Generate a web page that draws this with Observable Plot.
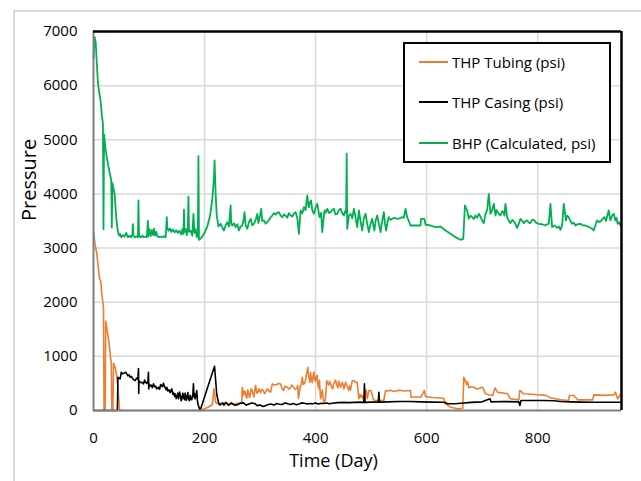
<!DOCTYPE html>
<html>
<head>
<meta charset="utf-8">
<script src="https://cdn.jsdelivr.net/npm/d3@7"></script>
<script src="https://cdn.jsdelivr.net/npm/@observablehq/plot@0.6"></script>
<style>
  html, body { margin: 0; padding: 0; background: #fff; overflow: hidden; }
  #wrap { position: relative; width: 641px; height: 481px; overflow: hidden; font-family: "Open Sans", sans-serif; }
  #outer { position: absolute; left: 13px; top: 10px; width: 800px; height: 600px; border-left: 2px solid #d9d9d9; border-top: 2px solid #d9d9d9; }
  #chart { position: absolute; left: 0; top: 0; }
  #legend { position: absolute; left: 403px; top: 42px; width: 208px; height: 121px; box-sizing: border-box; border: 2px solid #000; background: #fff; }
  .row { position: absolute; left: 0; height: 20px; line-height: 20px; font-size: 15px; color: #000; white-space: nowrap; }
  .sw { position: absolute; left: 14px; top: 9px; width: 29px; height: 0; border-top: 2px solid; }
  .lab { position: absolute; left: 47px; top: 0; }
</style>
</head>
<body>
<div id="wrap">
  <div id="outer"></div>
  <div id="chart"></div>
  <div id="legend"></div>
</div>
<script>
const xTicks = [0, 200, 400, 600, 800];
const yTicks = [0, 1000, 2000, 3000, 4000, 5000, 6000, 7000];
const seriesNames = ["THP Tubing (psi)", "THP Casing (psi)", "BHP (Calculated, psi)"];
const seriesColors = ["#ED7D31", "#000000", "#00B050"];

// THP Tubing (psi): [day, psi]
const tubing = [
[0,3300],[3,3050],[6,2900],[9,2600],[11,2420],[13,2400],[15,2150],[18,1900],[19,0],[21,0],[22,1650],[25,1450],[28,1250],[31,950],[32,870],[33,0],[35,0],[36,870],[39,800],[42,620],[45,300],[47,0],
[100,0],[150,0],[192,0],[200,30],[208,70],[214,110],[217,400],[220,150],[225,110],[230,130],[235,100],[240,140],[245,110],[250,130],[255,120],[262,140],[267,150],
[268,430],[270,280],[272,360],[273,350],[275,250],[276,230],[278,380],[279,330],[281,240],[282,270],[284,400],[286,360],[288,280],[289,250],[291,420],[292,460],[294,320],[296,340],[298,400],[301,330],[303,390],[306,370],[308,310],[310,340],[313,400],[316,360],[319,340],[322,490],[326,470],[330,480],[333,500],[337,490],[339,420],[342,370],[345,450],[349,430],[352,400],[355,420],[357,470],[360,440],[363,390],[366,410],[368,460],[369,220],[371,350],[373,450],[375,520],[376,615],[378,480],[380,500],[382,560],[383,650],[385,720],[386,800],[387,680],[388,600],[390,520],[391,700],[392,620],[394,520],[395,600],[397,710],[398,580],[400,540],[401,620],[403,650],[404,480],[406,400],[407,560],[409,220],[411,300],[412,380],[414,200],[415,150],[417,180],[418,250],[420,550],[422,500],[424,470],[425,540],[427,490],[429,430],[431,400],[432,480],[434,520],[436,560],[438,480],[440,420],[442,540],[443,500],[445,430],[447,480],[448,520],[450,460],[451,400],[453,480],[454,520],[456,470],[458,420],[460,370],[461,450],[463,380],[466,550],[469,554],[472,520],[475,523],[478,216],[480,300],[482,240],[484,280],[486,200],[488,230],[491,380],[493,220],[496,370],[500,370],[504,200],[508,185],[515,190],[523,185],[526,370],[530,360],[535,375],[540,350],[545,360],[550,375],[555,370],[560,360],[565,365],[571,370],[572,246],[580,250],[590,250],[596,370],[598,258],[610,240],[625,230],[631,222],[634,124],[643,61],[656,31],[665,43],[667,615],[669,540],[670,560],[672,480],[674,523],[676,420],[680,440],[685,430],[690,400],[695,410],[701,430],[706,308],[712,290],[719,277],[723,418],[728,338],[733,330],[740,320],[746,308],[751,216],[766,197],[768,370],[775,308],[790,300],[800,290],[815,280],[823,234],[841,197],[856,185],[857,277],[865,277],[872,197],[899,197],[901,289],[920,280],[937,289],[940,338],[944,216],[950,308]
];

// THP Casing (psi): [day, psi]
const casing = [
[0,0],[43,0],[44,615],[46,590],[48,585],[50,707],[52,680],[55,690],[58,707],[60,677],[62,640],[64,660],[66,615],[68,630],[70,600],[72,570],[75,554],[78,600],[80,580],[81,775],[81.5,314],[82,550],[84,520],[87,523],[90,490],[92,560],[94,520],[96,500],[98,540],[99,707],[99.5,400],[100,490],[102,450],[104,470],[106,420],[108,492],[110,440],[112,450],[114,400],[117,430],[119,390],[121,480],[124,440],[126,504],[128,440],[129,420],[131,380],[132,430],[134,360],[136,380],[138,330],[141,400],[143,300],[144,330],[146,260],[147,308],[149,220],[150,260],[152,320],[153,216],[155,340],[156,300],[158,180],[159,200],[161,320],[162,246],[164,200],[165,320],[167,190],[168,230],[170,330],[171,216],[173,180],[174,280],[176,210],[177,200],[179,300],[180,492],[181,250],[182,320],[183,216],[185,280],[186,370],[187,200],[188,120],[192,0],[218,818],[222,300],[225,150],
[228,100],[230,124],[233,140],[235,100],[238,150],[240,130],[243,100],[245,110],[248,140],[250,124],[255,95],[260,110],[265,135],[270,140],[275,100],[280,120],[285,140],[290,130],[295,90],[300,100],[305,75],[310,90],[315,110],[320,120],[325,100],[330,130],[335,115],[340,110],[345,140],[350,124],[355,110],[360,130],[365,105],[370,120],[375,140],[380,135],[385,120],[390,130],[395,125],[400,140],[405,120],[410,135],[415,130],[420,140],[425,125],[430,135],[440,145],[450,150],[460,145],[470,150],[480,155],[487,150],[488,492],[489,150],[500,155],[513,155],[514,338],[515,155],[530,160],[550,165],[571,166],[590,160],[610,155],[631,153],[638,124],[650,124],[663,135],[680,150],[700,160],[714,216],[716,160],[740,165],[766,160],[768,92],[770,185],[790,185],[810,185],[830,180],[841,166],[860,160],[880,155],[900,153],[950,153]
];

// BHP (Calculated, psi): [day, psi]
const bhp = [
[0,6500],[2,6900],[4,6800],[6,6400],[8,6050],[10,5900],[13,5700],[15,5450],[17,5300],[18,3350],[19,5100],[22,4800],[26,4550],[30,4350],[32,4250],[33,3380],[34,4200],[36,4100],[38,4000],[40,3700],[42,3450],[44,3300],[46,3230],[48,3260],[50,3200],[53,3240],[56,3210],[59,3280],[62,3200],[65,3230],[68,3200],[70,3250],[71,3440],[72,3230],[75,3200],[78,3220],[80,3200],[81,3880],[82,3220],[85,3200],[88,3230],[90,3200],[93,3210],[96,3200],[98,3500],[99,3220],[101,3350],[103,3220],[105,3330],[107,3240],[109,3360],[111,3230],[113,3300],[115,3220],[118,3200],[121,3210],[124,3200],[127,3220],[130,3200],[132,3570],[133,3380],[135,3320],[138,3360],[140,3300],[143,3340],[146,3290],[149,3330],[152,3280],[155,3320],[158,3250],[160,3350],[162,3260],[163,3710],[164,3300],[166,3350],[168,3240],[170,3400],[171,3950],[172,3300],[175,3320],[178,3230],[180,3630],[182,3280],[184,3350],[186,3200],[188,3250],[189,4700],[190,3150],[195,3200],[200,3280],[205,3400],[210,3600],[214,3900],[217,4300],[218,4620],[220,4000],[222,3600],[225,3400],
[229,3448],[232,3380],[235,3325],[238,3420],[241,3478],[244,3400],[247,3786],[248,3450],[250,3417],[253,3460],[256,3386],[259,3440],[262,3325],[265,3400],[268,3417],[270,3500],[272,3663],[274,3420],[277,3356],[280,3480],[283,3540],[286,3420],[289,3448],[292,3520],[295,3633],[297,3460],[298,3510],[300,3600],[302,3725],[304,3500],[307,3510],[310,3450],[313,3478],[316,3520],[319,3570],[322,3600],[325,3645],[328,3620],[331,3650],[334,3663],[337,3600],[340,3570],[343,3620],[346,3600],[349,3560],[352,3645],[355,3600],[358,3583],[361,3640],[364,3663],[367,3560],[370,3263],[373,3694],[376,3640],[379,3755],[382,3700],[385,3971],[387,3800],[388,3755],[390,3850],[392,3878],[394,3700],[397,3633],[400,3750],[403,3817],[405,3700],[407,3570],[410,3650],[412,3294],[414,3500],[416,3694],[418,3650],[421,3725],[424,3650],[427,3663],[430,3700],[433,3725],[436,3620],[439,3633],[442,3700],[445,3725],[448,3640],[451,3602],[453,3680],[455,3650],[456,4745],[457,3356],[460,3600],[463,3633],[466,3550],[469,3725],[472,3560],[475,3386],[478,3694],[481,3500],[484,3325],[487,3550],[490,3633],[493,3450],[496,3294],[499,3450],[502,3540],[504,3420],[506,3325],[508,3500],[511,3602],[514,3450],[517,3294],[520,3500],[523,3663],[525,3450],[527,3325],[530,3500],[532,3570],[535,3520],[538,3540],[542,3560],[547,3540],[551,3550],[556,3570],[559,3560],[562,3725],[565,3570],[571,3417],[580,3417],[589,3417],[590,3540],[596,3540],[598,3435],[607,3417],[616,3386],[625,3398],[634,3325],[643,3263],[652,3202],[661,3153],[666,3170],[669,3786],[673,3694],[676,3540],[679,3600],[682,3570],[685,3540],[688,3602],[691,3560],[694,3633],[697,3580],[700,3510],[703,3460],[706,3633],[709,3700],[712,4002],[715,3633],[718,3700],[721,3817],[724,3602],[726,3700],[728,3663],[731,3620],[733,3602],[736,3680],[738,3663],[740,3600],[742,3817],[745,3570],[748,3500],[751,3460],[754,3520],[757,3497],[760,3440],[763,3374],[766,3450],[769,3540],[772,3500],[775,3460],[778,3500],[781,3510],[784,3470],[787,3460],[790,3520],[793,3521],[797,3470],[802,3448],[808,3440],[814,3417],[817,3440],[820,3448],[823,3817],[826,3386],[830,3420],[835,3374],[838,3400],[841,3337],[844,3420],[847,3817],[851,3510],[853,3600],[856,3570],[859,3500],[862,3448],[865,3470],[868,3417],[872,3440],[877,3448],[881,3420],[886,3417],[890,3400],[895,3374],[898,3360],[901,3325],[904,3420],[907,3510],[911,3480],[914,3497],[917,3540],[920,3570],[923,3500],[926,3620],[928,3694],[931,3510],[934,3600],[937,3633],[940,3510],[942,3560],[944,3448],[947,3480],[949,3417]
];

const xMax = 951;
const grid = "#d9d9d9";
const fmt = d => String(d);

const chart = Plot.plot({
  width: 641,
  height: 481,
  marginLeft: 93,
  marginRight: 20,
  marginTop: 31,
  marginBottom: 71,
  style: { fontFamily: "'Open Sans', sans-serif", fontSize: "15px", color: "#000", background: "transparent" },
  x: { domain: [0, xMax] },
  y: { domain: [0, 7000] },
  marks: [
    Plot.ruleX(xTicks.filter(d => d > 0), { stroke: grid, strokeWidth: 1.5 }),
    Plot.ruleY(yTicks.filter(d => d > 0 && d < 7000), { stroke: grid, strokeWidth: 1.5 }),
    Plot.line(tubing, { x: d => d[0], y: d => d[1], stroke: seriesColors[0], strokeWidth: 1.6 }),
    Plot.line(casing, { x: d => d[0], y: d => d[1], stroke: seriesColors[1], strokeWidth: 1.6 }),
    Plot.line(bhp, { x: d => d[0], y: d => d[1], stroke: seriesColors[2], strokeWidth: 1.8 }),
    Plot.ruleX([0], { stroke: "#7f7f7f", strokeWidth: 2 }),
    Plot.ruleY([0], { stroke: "#7f7f7f", strokeWidth: 2 }),
    Plot.ruleY([7000], { stroke: "#000", strokeWidth: 2.5 }),
    Plot.ruleX([xMax], { stroke: "#000", strokeWidth: 2.5 }),
    Plot.axisX({ ticks: xTicks, tickFormat: fmt, tickSize: 0, tickPadding: 22, label: null, fontSize: 15 }),
    Plot.axisY({ ticks: yTicks, tickFormat: fmt, tickSize: 0, tickPadding: 16, label: null, fontSize: 15 }),
    Plot.text(["Time (Day)"], { frameAnchor: "bottom", dx: -24, dy: 56, fontSize: 18, fill: "#000" }),
    Plot.text(["Pressure"], { frameAnchor: "left", dx: -64, rotate: -90, fontSize: 20, fill: "#000" })
  ]
});
document.getElementById("chart").appendChild(chart);

const legend = document.getElementById("legend");
const rowTops = [8, 48, 89];
seriesNames.forEach((name, i) => {
  const row = document.createElement("div");
  row.className = "row";
  row.style.top = rowTops[i] + "px";
  const sw = document.createElement("div");
  sw.className = "sw";
  sw.style.borderTopColor = seriesColors[i];
  const lab = document.createElement("div");
  lab.className = "lab";
  lab.textContent = name;
  row.appendChild(sw);
  row.appendChild(lab);
  legend.appendChild(row);
});
</script>
</body>
</html>
